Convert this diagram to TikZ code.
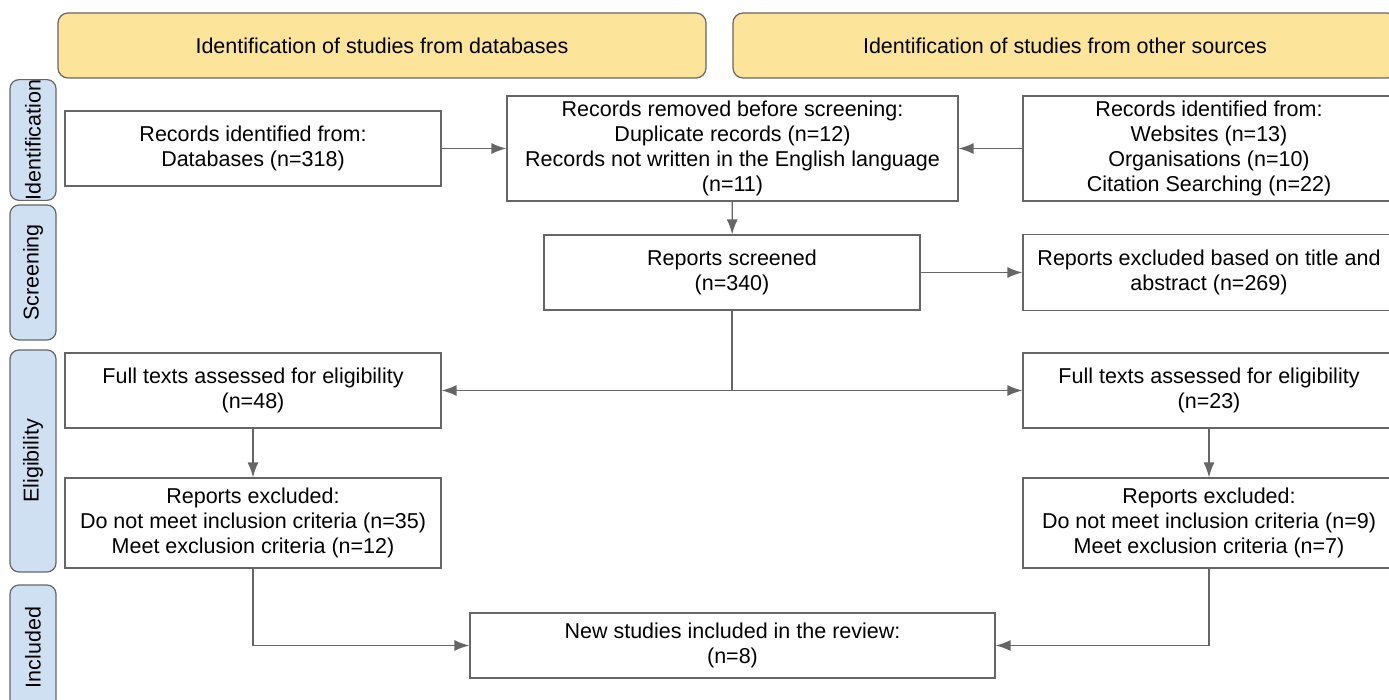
\documentclass[tikz,border=0pt]{standalone}
\usepackage{fontspec}
\setmainfont{Liberation Sans}
\usetikzlibrary{arrows.meta}
\definecolor{linegray}{HTML}{666666}
\definecolor{headyellow}{HTML}{FDE49B}
\definecolor{phaseblue}{HTML}{CFE0F3}
\begin{document}
\begin{tikzpicture}[x=1pt,y=-1pt,
    every node/.style={font=\fontsize{21.5}{25}\selectfont, align=center, inner sep=0pt},
    box/.style={draw=linegray, line width=1.2pt, fill=white, minimum height=75pt},
    head/.style={draw=linegray, line width=1.2pt, fill=headyellow, rounded corners=10pt, minimum height=65pt},
    phase/.style={draw=linegray, line width=1.2pt, fill=phaseblue, rounded corners=9pt, rotate=90, minimum height=46pt},
    arr/.style={draw=linegray, line width=1.4pt, -{Latex[length=15pt,width=11pt]}},
    link/.style={draw=linegray, line width=1.4pt}]
              \useasboundingbox (0,0) rectangle (1389,700);
              \clip (0,0) rectangle (1389,700);
              \node[head, minimum width=648pt] (hdb) at (382,45.5) {Identification of studies from databases};
              \node[head, minimum width=664pt] (hother) at (1065,45.5) {Identification of studies from other sources};
              \node[phase, minimum width=120pt] (pid) at (33,140) {Identification};
              \node[phase, minimum width=135pt] (pscr) at (33,272.5) {Screening};
              \node[phase, minimum width=222pt] (pelig) at (33,461) {Eligibility};
              \node[phase, minimum width=125pt] (pincl) at (33,647.5) {Included};
              \node[box, minimum width=376pt] (recdb) at (253,148.5) {Records identified from:\\Databases (n=318)};
              \node[box, minimum width=451pt, minimum height=105pt] (removed) at (732.5,148.5) {Records removed before screening:\\Duplicate records (n=12)\\Records not written in the English language\\(n=11)};
              \node[box, minimum width=372pt, minimum height=105pt] (recother) at (1209,148.5) {Records identified from:\\Websites (n=13)\\Organisations (n=10)\\Citation Searching (n=22)};
              \node[box, minimum width=376pt] (screened) at (732,272.5) {Reports screened\\(n=340)};
              \node[box, minimum width=372pt, minimum height=76pt] (exabs) at (1209,272.5) {Reports excluded based on title and\\abstract (n=269)};
              \node[box, minimum width=376pt] (fulldb) at (253,390.5) {Full texts assessed for eligibility\\(n=48)};
              \node[box, minimum width=372pt] (fullother) at (1209,390.5) {Full texts assessed for eligibility\\(n=23)};
              \node[box, minimum width=376pt, minimum height=90pt] (exdb) at (253,523) {Reports excluded:\\Do not meet inclusion criteria (n=35)\\Meet exclusion criteria (n=12)};
              \node[box, minimum width=372pt, minimum height=90pt] (exother) at (1209,523) {Reports excluded:\\Do not meet inclusion criteria (n=9)\\Meet exclusion criteria (n=7)};
              \node[box, minimum width=525pt, minimum height=65pt] (included) at (732.5,645.5) {New studies included in the review:\\(n=8)};
              \coordinate (split) at (screened.south |- fulldb);
              \draw[arr] (recdb) -- (removed);
              \draw[arr] (recother) -- (removed);
              \draw[arr] (removed) -- (screened);
              \draw[arr] (screened) -- (exabs);
              \draw[link] (screened.south) -- (split);
              \draw[arr] (split) -- (fulldb);
              \draw[arr] (split) -- (fullother);
              \draw[arr] (fulldb) -- (exdb);
              \draw[arr] (fullother) -- (exother);
              \draw[arr] (exdb.south) |- (included.west);
              \draw[arr] (exother.south) |- (included.east);
            \end{tikzpicture}
\end{document}
